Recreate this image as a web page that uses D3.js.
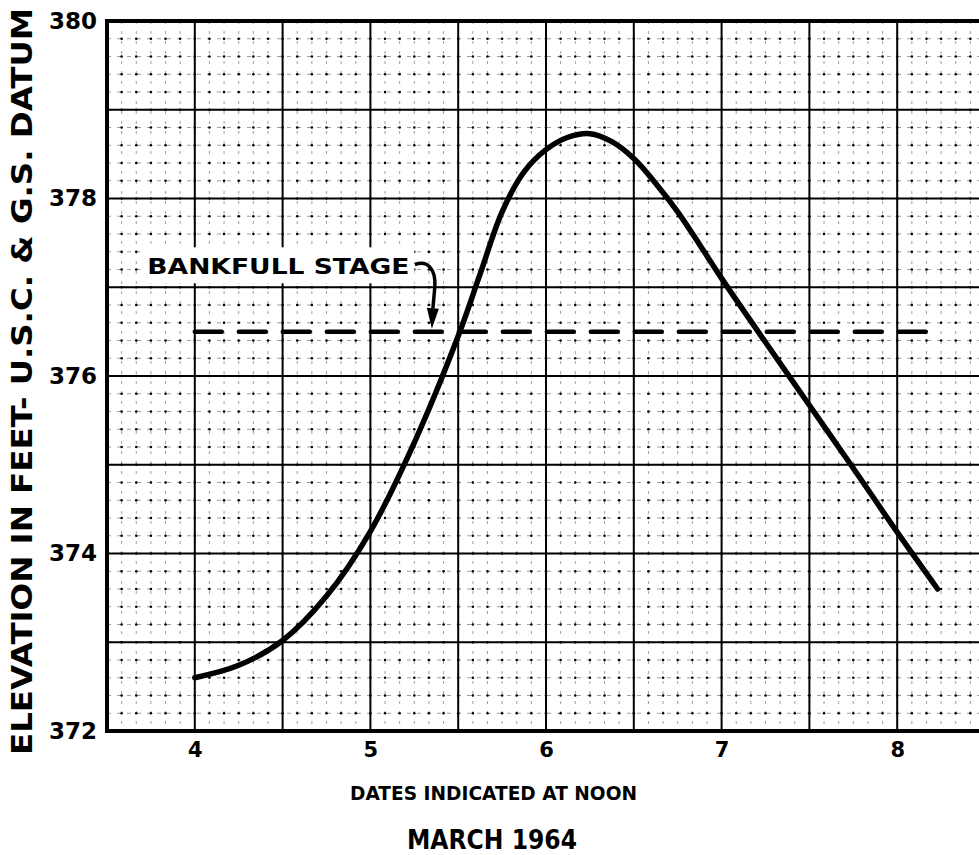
<!DOCTYPE html>
<html>
<head>
<meta charset="utf-8">
<script src="https://cdn.jsdelivr.net/npm/d3@7"></script>
<style>
body { margin: 0; background: #fff; }
svg { display: block; }
text { font-family: "DejaVu Sans", sans-serif; font-weight: bold; fill: #000; }
</style>
</head>
<body>
<div id="chart"></div>
<script>
// stage hydrograph (day of March 1964, noon = whole number)
var days       = [4.0, 4.25, 4.5, 4.75, 5.0, 5.25, 5.5, 5.625, 5.75, 5.875, 6.0, 6.125, 6.25, 6.375, 6.5, 6.625, 6.75, 6.875, 7.0, 7.25, 7.5, 7.75, 8.0, 8.23];
var elevations = [372.6, 372.74, 373.02, 373.52, 374.25, 375.25, 376.45, 377.15, 377.85, 378.3, 378.55, 378.69, 378.73, 378.64, 378.45, 378.17, 377.85, 377.48, 377.1, 376.38, 375.67, 374.96, 374.24, 373.6];

var bankfullStage = 376.5;
var bankfullSpan = [4.0, 8.2];
var arrowTipDay = 5.35;

var xTicks = [4, 5, 6, 7, 8];
var yTicks = [372, 374, 376, 378, 380];

var yTitle = "ELEVATION IN FEET- U.S.C. & G.S. DATUM";
var xTitle = "DATES INDICATED AT NOON";
var monthTitle = "MARCH 1964";
var bankfullLabel = "BANKFULL STAGE";

var width = 979, height = 855;

var x = d3.scaleLinear().domain([3.5, 8.5]).range([107, 985]);
var y = d3.scaleLinear().domain([372, 380]).range([731, 21]);

var svg = d3.select('#chart')
    .append('svg')
    .attr('width', width)
    .attr('height', height);

// grid values
var minorX = d3.range(0, 61).map(function (i) { return 3.5 + i / 12; });
var minorY = d3.range(0, 41).map(function (i) { return 372 + i * 0.2; });
var majorX = d3.range(0, 11).map(function (i) { return 3.5 + i * 0.5; });
var majorY = d3.range(372, 381);

// minor grid, broken lines
svg.append('g').selectAll('line')
    .data(minorX)
    .enter().append('line')
    .attr('x1', function (d) { return x(d); })
    .attr('x2', function (d) { return x(d); })
    .attr('y1', y(380)).attr('y2', y(372))
    .attr('stroke', '#777').attr('stroke-width', 0.7)
    .attr('stroke-dasharray', '3,7');

svg.append('g').selectAll('line')
    .data(minorY)
    .enter().append('line')
    .attr('x1', x(3.5)).attr('x2', x(8.5))
    .attr('y1', function (d) { return y(d); })
    .attr('y2', function (d) { return y(d); })
    .attr('stroke', '#777').attr('stroke-width', 0.7)
    .attr('stroke-dasharray', '4,6');

// dots where minor lines cross
var crossings = [];
minorX.forEach(function (a) { minorY.forEach(function (b) { crossings.push([a, b]); }); });
svg.append('g').selectAll('circle')
    .data(crossings)
    .enter().append('circle')
    .attr('cx', function (d) { return x(d[0]); })
    .attr('cy', function (d) { return y(d[1]); })
    .attr('r', 1.3)
    .attr('fill', '#000');

// major grid
svg.append('g').selectAll('line')
    .data(majorX)
    .enter().append('line')
    .attr('x1', function (d) { return x(d); })
    .attr('x2', function (d) { return x(d); })
    .attr('y1', y(380)).attr('y2', y(372))
    .attr('stroke', '#000').attr('stroke-width', 2);

svg.append('g').selectAll('line')
    .data(majorY)
    .enter().append('line')
    .attr('x1', x(3.5)).attr('x2', x(8.5))
    .attr('y1', function (d) { return y(d); })
    .attr('y2', function (d) { return y(d); })
    .attr('stroke', '#000').attr('stroke-width', 2);

// white patch behind the label (covers the grid there)
svg.append('rect')
    .attr('x', x(3.69)).attr('y', y(377.45))
    .attr('width', 274).attr('height', 36)
    .attr('fill', '#fff');

// heavy frame
svg.append('path')
    .attr('d', 'M' + x(8.5) + ',' + y(380) + 'H' + x(3.5) + 'V' + y(372) + 'H' + x(8.5))
    .attr('fill', 'none')
    .attr('stroke', '#000')
    .attr('stroke-width', 4);

// bankfull stage
svg.append('line')
    .attr('x1', x(bankfullSpan[0])).attr('x2', x(bankfullSpan[1]))
    .attr('y1', y(bankfullStage)).attr('y2', y(bankfullStage))
    .attr('stroke', '#000').attr('stroke-width', 4.5)
    .attr('stroke-linecap', 'round')
    .attr('stroke-dasharray', '27,17');

// hydrograph
var line = d3.line()
    .x(function (d) { return x(d[0]); })
    .y(function (d) { return y(d[1]); })
    .curve(d3.curveCatmullRom.alpha(0.5));

svg.append('path')
    .datum(days.map(function (d, i) { return [d, elevations[i]]; }))
    .attr('d', line)
    .attr('fill', 'none')
    .attr('stroke', '#000')
    .attr('stroke-width', 5.5)
    .attr('stroke-linecap', 'round');

// label + arrow
svg.append('text')
    .attr('x', x(3.73))
    .attr('y', y(bankfullStage) - 58)
    .attr('font-size', 22)
    .attr('textLength', 262)
    .attr('lengthAdjust', 'spacingAndGlyphs')
    .text(bankfullLabel);

var tx = x(arrowTipDay), ty = y(bankfullStage) - 3;
svg.append('path')
    .attr('d', 'M' + (tx - 17) + ',' + (ty - 64) +
        ' C' + (tx - 4) + ',' + (ty - 69) + ' ' + (tx + 4) + ',' + (ty - 59) + ' ' + (tx + 3) + ',' + (ty - 42) +
        ' L' + (tx + 1) + ',' + (ty - 20))
    .attr('fill', 'none')
    .attr('stroke', '#000')
    .attr('stroke-width', 3.5);

svg.append('path')
    .attr('d', 'M' + (tx - 5) + ',' + (ty - 21) + 'L' + (tx + 7) + ',' + (ty - 20) + 'L' + tx + ',' + ty + 'Z')
    .attr('fill', '#000');

// axis labels
var xAxis = svg.append('g')
    .attr('transform', 'translate(0,' + y(372) + ')')
    .call(d3.axisBottom(x).tickValues(xTicks).tickSize(0).tickPadding(11).tickFormat(d3.format('d')));
xAxis.select('.domain').remove();
xAxis.selectAll('text').attr('font-size', 21).attr('fill', '#000');

var yAxis = svg.append('g')
    .attr('transform', 'translate(' + (x(3.5) - 10) + ',0)')
    .call(d3.axisLeft(y).tickValues(yTicks).tickSize(0).tickPadding(0).tickFormat(d3.format('d')));
yAxis.select('.domain').remove();
yAxis.selectAll('text').attr('font-size', 23).attr('fill', '#000');

svg.append('text')
    .attr('x', 350)
    .attr('y', 800)
    .attr('font-size', 20)
    .attr('textLength', 287)
    .attr('lengthAdjust', 'spacingAndGlyphs')
    .text(xTitle);

svg.append('text')
    .attr('x', 407)
    .attr('y', 849)
    .attr('font-size', 27)
    .attr('textLength', 170)
    .attr('lengthAdjust', 'spacingAndGlyphs')
    .text(monthTitle);

svg.append('text')
    .attr('transform', 'translate(32,755) rotate(-90)')
    .attr('font-size', 29)
    .attr('textLength', 747)
    .attr('lengthAdjust', 'spacingAndGlyphs')
    .text(yTitle);
</script>
</body>
</html>
